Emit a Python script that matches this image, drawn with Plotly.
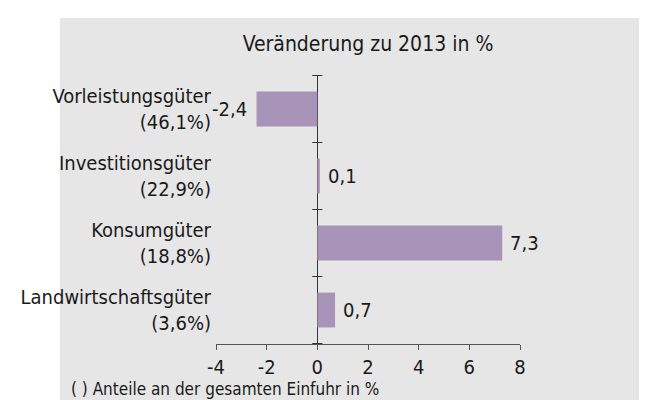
import plotly.graph_objects as go

categories = ["Vorleistungsgüter<br>(46,1%)", "Investitionsgüter<br>(22,9%)",
              "Konsumgüter<br>(18,8%)", "Landwirtschaftsgüter<br>(3,6%)"]
values = [-2.4, 0.1, 7.3, 0.7]
value_labels = ["-2,4", "0,1", "7,3", "0,7"]
x_ticks = [-4, -2, 0, 2, 4, 6, 8]

FONT = "Liberation Sans Narrow, Arial Narrow, DejaVu Sans Condensed, sans-serif"
TXT = "#1a1a1a"
BAR = "#a894b8"

W, H = 647, 400
L, R, T, B = 179, 135, 67, 64
pw, ph = W - L - R, H - T - B

def px_x(p):
    return (p - L) / pw

def px_y(p):
    return (H - B - p) / ph

fig = go.Figure()
fig.add_trace(go.Bar(
    x=values, y=categories, orientation="h",
    marker=dict(color=BAR, line=dict(width=0)),
    width=0.52, hoverinfo="skip",
))

for v, c, t in zip(values, categories, value_labels):
    fig.add_annotation(
        x=v, y=c, xref="x", yref="y", text=t, showarrow=False,
        xanchor="left" if v >= 0 else "right",
        xshift=6 if v >= 0 else -8,
        font=dict(family=FONT, size=20, color=TXT),
    )

# background panel
fig.add_shape(type="rect", xref="paper", yref="paper",
              x0=px_x(8), x1=px_x(W + 2), y0=px_y(H + 2), y1=px_y(10),
              fillcolor="#e6e6e6", line=dict(width=0), layer="below")

# category separator ticks across the zero line
n = len(categories)
for i in range(n + 1):
    fig.add_shape(type="line", xref="x", yref="y",
                  x0=-0.2, x1=0.2, y0=i - 0.5, y1=i - 0.5,
                  line=dict(color="#333333", width=1))

fig.add_annotation(
    text="( ) Anteile an der gesamten Einfuhr in %", xref="paper", yref="paper",
    x=px_x(18), y=px_y(381), xanchor="left", yanchor="middle", showarrow=False,
    font=dict(family=FONT, size=17, color=TXT),
)

fig.update_layout(
    width=W, height=H,
    margin=dict(l=L, r=R, t=T, b=B, pad=0),
    paper_bgcolor="white", plot_bgcolor="rgba(0,0,0,0)",
    showlegend=False,
    font=dict(family=FONT, size=20, color=TXT),
    title=dict(text="Veränderung zu 2013 in %", x=0.5, xref="paper",
               y=1 - 36 / H, yref="container", yanchor="middle",
               font=dict(family=FONT, size=21, color=TXT)),
    xaxis=dict(range=[-4, 8], tickvals=x_ticks, ticktext=[str(t) for t in x_ticks],
               showgrid=False, showline=True, linecolor="#555555", linewidth=1,
               ticks="outside", ticklen=5, tickcolor="#555555",
               zeroline=True, zerolinecolor="#333333", zerolinewidth=1,
               tickfont=dict(family=FONT, size=20, color=TXT)),
    yaxis=dict(categoryorder="array", categoryarray=categories, autorange="reversed",
               showgrid=False, showline=False, ticks="", zeroline=False,
               ticklabelstandoff=4,
               tickfont=dict(family=FONT, size=20, color=TXT)),
)

fig.write_html("out.html")
